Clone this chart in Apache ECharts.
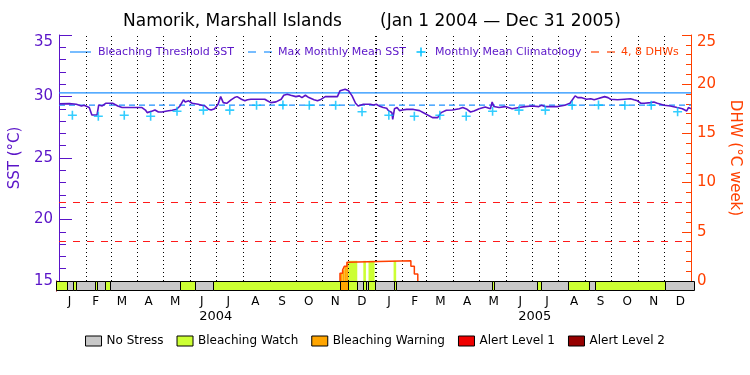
<!DOCTYPE html>
<html><head><meta charset="utf-8">
<script src="https://cdn.jsdelivr.net/npm/echarts@6/dist/echarts.min.js"></script>
<style>html,body{margin:0;padding:0;background:#fff}#c{width:750px;height:375px}</style>
</head><body><div id="c"></div>
<script>
// ---------- data ----------
const monthLetters = ['J','F','M','A','M','J','J','A','S','O','N','D'];
const yearLabels = ['2004','2005'];
// SST (days since 2004-01-01, value °C)
const sstDay = [0,12,14,20,26,29,31,35,38,44,46,50,54,62,64,68,73,96,100,102,104,108,111,115,119,125,131,136,140,142,144,146,150,154,161,165,169,173,176,180,184,187,190,194,199,203,206,211,215,218,222,238,241,245,251,257,260,264,268,274,278,281,285,289,295,299,302,308,322,325,327,331,335,339,343,346,352,360,364,367,
371,375,379,381,383,385,386,388,391,394,397,402,410,417,421,427,432,438,442,448,455,463,467,472,476,480,486,493,499,501,503,509,516,524,532,539,547,555,558,562,570,577,585,591,597,600,604,610,615,619,623,631,635,638,646,654,661,665,669,673,677,684,688,692,700,707,715,721,726,728,731];
const sstVal = [29.40,29.42,29.31,29.37,29.23,29.29,29.18,29.10,28.50,28.50,29.31,29.23,29.45,29.45,29.37,29.23,29.10,29.10,28.90,28.69,28.69,28.82,28.90,28.74,28.74,28.82,28.88,28.96,29.23,29.29,29.73,29.56,29.65,29.45,29.37,29.29,29.23,28.96,28.90,29.01,29.37,29.99,29.50,29.45,29.73,29.91,29.99,29.78,29.65,29.73,29.78,29.78,29.65,29.50,29.56,29.78,30.10,30.18,30.10,29.99,30.05,29.91,30.10,29.91,29.73,29.65,29.73,29.99,29.99,30.46,30.59,30.59,30.46,30.05,29.45,29.23,29.37,29.37,29.31,29.37,
29.20,29.10,29.05,28.85,29.00,28.70,28.14,29.00,29.10,28.85,28.90,28.95,28.95,28.85,28.70,28.47,28.28,28.28,28.69,28.88,28.90,29.01,29.10,28.96,28.74,28.82,29.01,29.14,29.01,29.56,29.18,29.10,29.18,29.01,29.10,29.18,29.23,29.18,29.29,29.18,29.18,29.18,29.29,29.45,30.05,29.91,29.91,29.78,29.82,29.73,29.82,29.99,29.91,29.78,29.73,29.78,29.82,29.73,29.65,29.45,29.45,29.50,29.56,29.45,29.29,29.23,29.10,29.01,28.82,29.10,29.01];
// Monthly mean climatology (Jan..Dec)
const climVal = [28.48,28.40,28.48,28.40,28.80,28.89,28.89,29.29,29.30,29.29,29.29,28.76];
const thresholdSST = 30.3;
const mmmSST = 29.3;
// Degree heating weeks (step values, in effect from the given day)
const dhwDay = [325,328,330,333,335,407,411,415];
const dhwVal = [0.8,1.1,1.5,1.9,2.05,1.5,0.7,0];
const dhwRefLevels = [4, 8];
// Stress level strip (segment start day, level)
const stripStart = [0,13,20,23,45,47,56,62,142,159,180,325,335,345,352,355,358,365,387,390,500,502,551,556,587,611,618,698];
const stripLevel = [1,0,1,0,1,0,1,0,1,0,1,2,1,0,1,0,1,0,1,0,1,0,1,0,1,0,1,0];
const levelNames = ['No Stress','Bleaching Watch','Bleaching Warning','Alert Level 1','Alert Level 2'];

// ---------- derived ----------
const levelColors = ['#C8C8C8','#CCFF33','#FFA500','#F00000','#960000'];
const PURPLE = '#5A14C8', ORANGE = '#FF4000', BLUE = '#1E90FF', CYAN = '#00C0FF', DHWRED = '#FF1A1A';
const FONT = 'DejaVu Sans';
const t0 = Date.UTC(2004,0,1);
const monthStart = [];
for (let i = 0; i <= 24; i++) monthStart.push(Math.round((Date.UTC(2004, i, 1) - t0) / 864e5));
const totalDays = monthStart[24];
const monthMid = [];
for (let i = 0; i < 24; i++) monthMid.push((monthStart[i] + monthStart[i+1]) / 2);
const yearMid = [(monthStart[0] + monthStart[12]) / 2, (monthStart[12] + monthStart[24]) / 2];
function nearestIdx(arr, v){ let b=0; for (let i=1;i<arr.length;i++) if (Math.abs(arr[i]-v)<Math.abs(arr[b]-v)) b=i; return b; }

const sstData = sstDay.map((d,i)=>[d, sstVal[i]]);
const climData = monthMid.map((d,i)=>[d, climVal[i % 12]]);
const dhwLine = [[dhwDay[0], 0]].concat(dhwDay.map((d,i)=>[d, dhwVal[i]]));
const segs = stripStart.map((s,i)=>[s, i+1<stripStart.length ? stripStart[i+1] : totalDays, stripLevel[i]]);
function dhwAt(d){ let v=0; for (let i=0;i<dhwDay.length;i++) if (d>=dhwDay[i]) v=dhwVal[i]; return v; }
function levelAt(d){ let l=0; for (let i=0;i<stripStart.length;i++) if (d>=stripStart[i]) l=stripLevel[i]; return l; }
const bps = Array.from(new Set(stripStart.concat(dhwDay, [totalDays]))).sort((a,b)=>a-b);
const fillPieces = [];
for (let i=0;i<bps.length-1;i++){
  const a=bps[i], b=bps[i+1], v=dhwAt(a), l=levelAt(a);
  if (v>0 && l>0) fillPieces.push([a,b,v,l]);
}
const monthLines = monthStart.slice(1,24).map(d => ({xAxis: d, lineStyle: {color:'#000', type:[1,3], width: d===monthStart[12] ? 2 : 1}}));

const chart = echarts.init(document.getElementById('c'), null, {renderer:'canvas'});
const stripSeries = levelNames.map((name, lv) => ({
  type:'custom', name, xAxisIndex:1, yAxisIndex:2, silent:true,
  itemStyle:{color: levelColors[lv]},
  data: segs.filter(s=>s[2]===lv).map(s=>[s[0], s[1]]),
  encode:{x:[0,1]},
  renderItem:(params, api)=>{
    const a = api.coord([api.value(0), 0]), b = api.coord([api.value(1), 1]);
    const x0 = Math.round(a[0])+0.5, x1 = Math.round(b[0])+0.5, y0 = Math.round(b[1])+0.5, y1 = Math.round(a[1])-0.5;
    return {type:'rect', shape:{x:x0, y:y0, width:x1-x0, height:y1-y0}, style:{fill: levelColors[lv], stroke:'#000', lineWidth:1}};
  },
  z:5
}));

const option = {
  animation:false,
  backgroundColor:'#fff',
  title:[
    {text:'Namorik, Marshall Islands', left:123, top:13, padding:0, textStyle:{fontFamily:FONT, fontSize:17, fontWeight:'normal', color:'#000'}},
    {text:'(Jan 1 2004 \u2014 Dec 31 2005)', left:380, top:13, padding:0, textStyle:{fontFamily:FONT, fontSize:17, fontWeight:'normal', color:'#000'}}
  ],
  legend:{data:levelNames, left:'center', top:330, itemWidth:16, itemHeight:10, itemGap:13, icon:'rect', selectedMode:false,
    itemStyle:{borderColor:'#000', borderWidth:1},
    textStyle:{fontFamily:FONT, fontSize:12, color:'#000'}},
  grid:[
    {left:56, right:56, top:35, height:246},
    {left:56, right:56, top:281, height:10}
  ],
  xAxis:[
    {type:'value', gridIndex:0, min:0, max:totalDays, position:'top', axisLine:{show:true, lineStyle:{color:'#000', width:1}}, axisTick:{show:false}, axisLabel:{show:false}, splitLine:{show:false}},
    {type:'value', gridIndex:1, min:0, max:totalDays, position:'bottom', axisLine:{show:false}, axisTick:{show:false}, splitLine:{show:false},
      axisLabel:{customValues: monthMid, formatter:(v)=>monthLetters[nearestIdx(monthMid, v) % 12], fontFamily:FONT, fontSize:12, color:'#000', margin:5}},
    {type:'value', gridIndex:1, min:0, max:totalDays, position:'bottom', offset:15, axisLine:{show:false}, axisTick:{show:false}, splitLine:{show:false},
      axisLabel:{customValues: yearMid, formatter:(v)=>yearLabels[nearestIdx(yearMid, v)], fontFamily:FONT, fontSize:13, color:'#000', margin:4}}
  ],
  yAxis:[
    {type:'value', gridIndex:0, position:'left', min:15, max:35, interval:5,
      axisLine:{show:true, lineStyle:{color:PURPLE, width:1}},
      axisTick:{show:true, inside:true, length:13, lineStyle:{color:PURPLE}},
      minorTick:{show:true, splitNumber:5, length:7, lineStyle:{color:PURPLE}},
      splitLine:{show:false},
      axisLabel:{color:PURPLE, fontFamily:FONT, fontSize:15, margin:6, verticalAlignMaxLabel:'top'},
      name:'SST (\u00B0C)', nameLocation:'middle', nameGap:28, nameTextStyle:{color:PURPLE, fontFamily:FONT, fontSize:15}},
    {type:'value', gridIndex:0, position:'right', min:0, max:25, interval:5,
      axisLine:{show:true, lineStyle:{color:ORANGE, width:1}},
      axisTick:{show:true, inside:true, length:9, lineStyle:{color:ORANGE}},
      minorTick:{show:true, splitNumber:5, length:5, lineStyle:{color:ORANGE}},
      splitLine:{show:false},
      axisLabel:{color:ORANGE, fontFamily:FONT, fontSize:15, margin:6, verticalAlignMaxLabel:'top'},
      name:'DHW (\u00B0C week)', nameLocation:'middle', nameRotate:-90, nameGap:29, nameTextStyle:{color:ORANGE, fontFamily:FONT, fontSize:15}},
    {type:'value', gridIndex:1, position:'left', min:0, max:1, axisLine:{show:true, lineStyle:{color:PURPLE}}, axisTick:{show:false}, axisLabel:{show:false}, splitLine:{show:false}},
    {type:'value', gridIndex:1, position:'right', min:0, max:1, axisLine:{show:true, lineStyle:{color:ORANGE}}, axisTick:{show:false}, axisLabel:{show:false}, splitLine:{show:false}}
  ],
  graphic:[
    {type:'line', shape:{x1:70,y1:52,x2:91,y2:52}, style:{stroke:BLUE, lineWidth:1.2}},
    {type:'text', x:98, y:52, style:{text:'Bleaching Threshold SST', fill:PURPLE, fontSize:11, fontFamily:FONT, verticalAlign:'middle'}},
    {type:'line', shape:{x1:248,y1:52,x2:256,y2:52}, style:{stroke:BLUE, lineWidth:1.2}},
    {type:'line', shape:{x1:264,y1:52,x2:272,y2:52}, style:{stroke:BLUE, lineWidth:1.2}},
    {type:'text', x:278, y:52, style:{text:'Max Monthly Mean SST', fill:PURPLE, fontSize:11, fontFamily:FONT, verticalAlign:'middle'}},
    {type:'line', shape:{x1:416.5,y1:52,x2:425.5,y2:52}, style:{stroke:CYAN, lineWidth:1.5}},
    {type:'line', shape:{x1:421,y1:47.5,x2:421,y2:56.5}, style:{stroke:CYAN, lineWidth:1.5}},
    {type:'text', x:435, y:52, style:{text:'Monthly Mean Climatology', fill:PURPLE, fontSize:11, fontFamily:FONT, verticalAlign:'middle'}},
    {type:'line', shape:{x1:591,y1:52,x2:599,y2:52}, style:{stroke:ORANGE, lineWidth:1.2}},
    {type:'line', shape:{x1:607,y1:52,x2:615,y2:52}, style:{stroke:ORANGE, lineWidth:1.2}},
    {type:'text', x:621, y:52, style:{text:'4, 8 DHWs', fill:ORANGE, fontSize:11, fontFamily:FONT, verticalAlign:'middle'}}
  ],
  series:[
    {type:'custom', name:'dhwFill', xAxisIndex:0, yAxisIndex:1, silent:true, z:1,
      data: fillPieces, encode:{x:[0,1], y:2},
      renderItem:(params, api)=>{
        const p0 = api.coord([api.value(0), 0]), p1 = api.coord([api.value(1), api.value(2)]);
        return {type:'rect', shape:{x:p0[0], y:p1[1], width:p1[0]-p0[0], height:p0[1]-p1[1]}, style:{fill: levelColors[api.value(3)]}};
      }},
    {type:'line', name:'Bleaching Threshold SST', xAxisIndex:0, yAxisIndex:0, data:[[0,thresholdSST],[totalDays,thresholdSST]], symbol:'none', silent:true, lineStyle:{color:BLUE, width:1.2}, z:3},
    {type:'line', name:'Max Monthly Mean SST', xAxisIndex:0, yAxisIndex:0, data:[[0,mmmSST],[totalDays,mmmSST]], symbol:'none', silent:true, lineStyle:{color:BLUE, width:1.2, type:[6,4]}, z:3},
    {type:'line', name:'SST', xAxisIndex:0, yAxisIndex:0, data:sstData, symbol:'none', silent:true, lineStyle:{color:PURPLE, width:1.6}, z:4,
      markLine:{silent:true, symbol:'none', label:{show:false}, data: monthLines, z:2}},
    {type:'scatter', name:'Monthly Mean Climatology', xAxisIndex:0, yAxisIndex:0, data:climData, silent:true,
      symbol:'path://M3.7,0H5.3V9H3.7Z M0,3.7H9V5.3H0Z', symbolSize:9, itemStyle:{color:CYAN}, z:5},
    {type:'line', name:'DHW', xAxisIndex:0, yAxisIndex:1, data:dhwLine, step:'end', symbol:'none', silent:true, lineStyle:{color:ORANGE, width:1.5}, z:4,
      markLine:{silent:true, symbol:'none', label:{show:false}, lineStyle:{color:DHWRED, type:[7,7], width:1}, data: dhwRefLevels.map(v=>({yAxis:v}))}}
  ].concat(stripSeries)
};
chart.setOption(option);
</script>
</body></html>
